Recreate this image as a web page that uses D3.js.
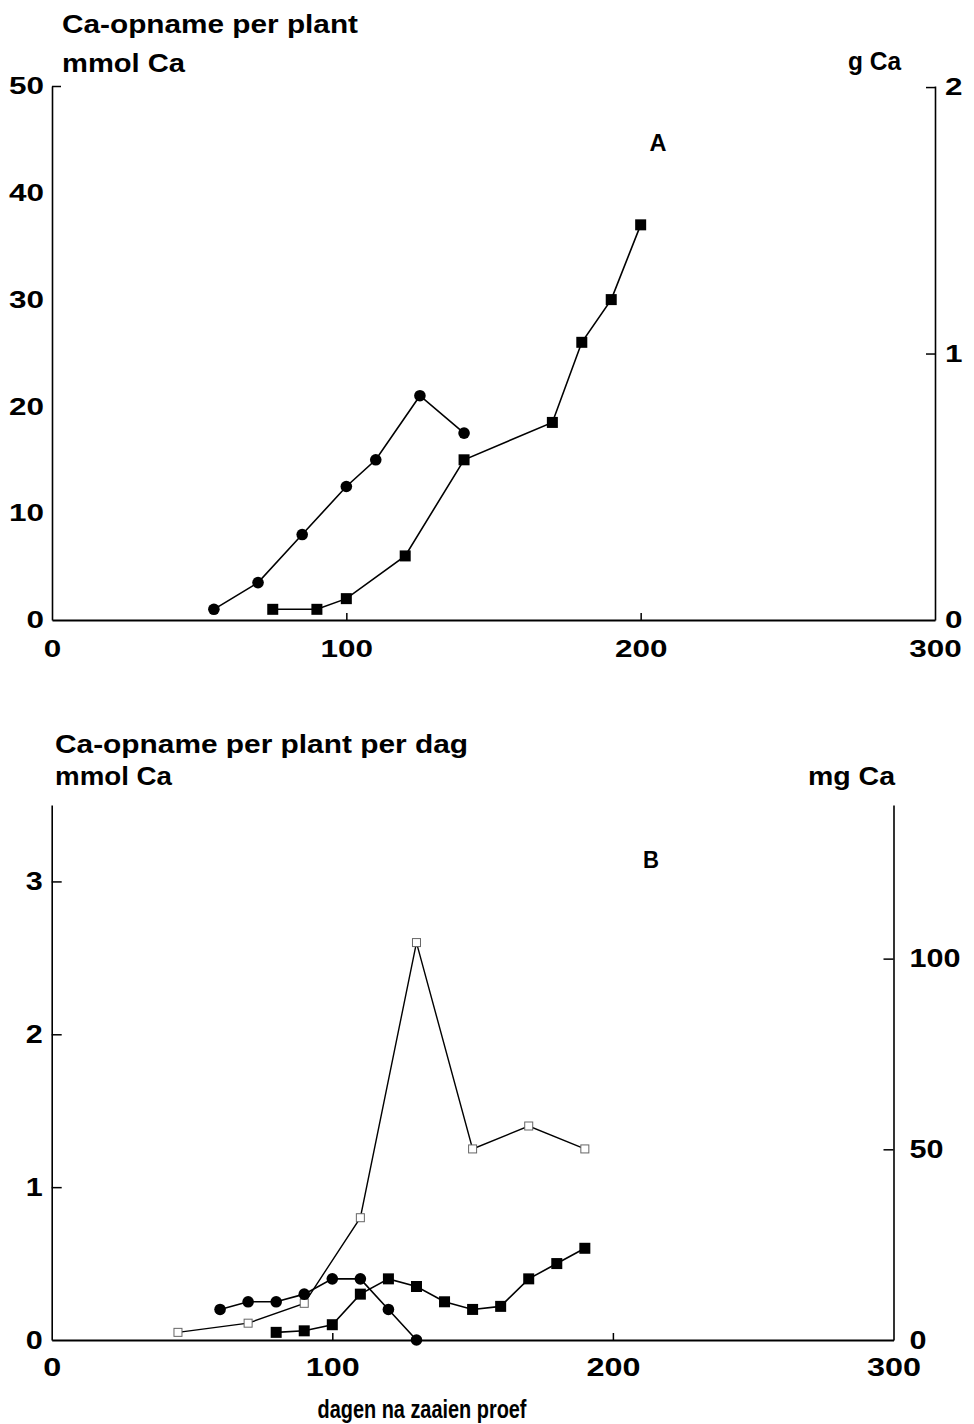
<!DOCTYPE html>
<html>
<head>
<meta charset="utf-8">
<script src="https://cdn.jsdelivr.net/npm/d3@7"></script>
<style>
  html, body { margin: 0; padding: 0; background: #fff; }
  svg { display: block; }
</style>
</head>
<body>
<script>
// ---------- DATA ----------
// Panel A: cumulative Ca uptake per plant (mmol Ca)
const daysA_circle = [55, 70, 85, 100, 110, 125, 140];
const caA_circle   = [1, 3.5, 8, 12.5, 15, 21, 17.5];
const daysA_square = [75, 90, 100, 120, 140, 170, 180, 190, 200];
const caA_square   = [1, 1, 2, 6, 15, 18.5, 26, 30, 37];

// Panel B: Ca uptake per plant per day (mmol Ca)
const daysB_circle = [60, 70, 80, 90, 100, 110, 120, 130];
const caB_circle   = [0.2, 0.25, 0.25, 0.3, 0.4, 0.4, 0.2, 0];
const daysB_square = [80, 90, 100, 110, 120, 130, 140, 150, 160, 170, 180, 190];
const caB_square   = [0.05, 0.06, 0.1, 0.3, 0.4, 0.35, 0.25, 0.2, 0.22, 0.4, 0.5, 0.6];
const daysB_open   = [45, 70, 90, 110, 130, 150, 170, 190];
const caB_open     = [0.05, 0.11, 0.24, 0.8, 2.6, 1.25, 1.4, 1.25];

// Tick labels
const xTicks      = [0, 100, 200, 300];
const yTicksA     = [0, 10, 20, 30, 40, 50];
const yTicksA_g   = [0, 1, 2];
const yTicksB     = [0, 1, 2, 3];
const yTicksB_mg  = [0, 50, 100];

// Texts
const titleA1 = "Ca-opname per plant";
const titleA2 = "mmol Ca";
const titleA3 = "g Ca";
const labelA  = "A";
const titleB1 = "Ca-opname per plant per dag";
const titleB2 = "mmol Ca";
const titleB3 = "mg Ca";
const labelB  = "B";
const xTitle  = "dagen na zaaien proef";

const MOLAR_CA = 40.08; // mg per mmol

// ---------- SETUP ----------
const W = 974, H = 1424;
const FONT = "'Liberation Sans', Arial, Helvetica, sans-serif";
const svg = d3.select("body").append("svg").attr("width", W).attr("height", H);
svg.append("rect").attr("width", W).attr("height", H).attr("fill", "#fff");

function txt(str, x, y, size, anchor, len) {
  const t = svg.append("text")
    .attr("x", x).attr("y", y)
    .attr("font-family", FONT).attr("font-weight", "bold")
    .attr("font-size", size).attr("fill", "#000")
    .attr("text-anchor", anchor || "start")
    .text(str);
  if (len) t.attr("textLength", len).attr("lengthAdjust", "spacingAndGlyphs");
  return t;
}

function styleAxis(g, size, perChar, lineW, marks) {
  g.select(".domain").attr("stroke", "#000").attr("stroke-width", lineW);
  g.selectAll(".tick line").attr("stroke", "#000").attr("stroke-width", 1.5)
    .attr("display", d => (marks && marks.indexOf(d) >= 0) ? null : "none");
  g.selectAll(".tick text")
    .attr("font-family", FONT).attr("font-weight", "bold")
    .attr("font-size", size).attr("fill", "#000")
    .each(function() {
      const t = d3.select(this);
      t.attr("textLength", t.text().length * perChar).attr("lengthAdjust", "spacingAndGlyphs");
    });
}

function series(g, xs, ys, x, y, kind, lw) {
  const pts = xs.map((d, i) => [d, ys[i]]);
  const line = d3.line().x(d => x(d[0])).y(d => y(d[1]));
  g.append("path").attr("d", line(pts)).attr("fill", "none")
    .attr("stroke", "#000").attr("stroke-width", lw || 1.6);
  if (kind === "circle") {
    g.selectAll(null).data(pts).enter().append("circle")
      .attr("cx", d => x(d[0])).attr("cy", d => y(d[1])).attr("r", 5.8).attr("fill", "#000");
  } else if (kind === "square") {
    const s = 11;
    g.selectAll(null).data(pts).enter().append("rect")
      .attr("x", d => x(d[0]) - s / 2).attr("y", d => y(d[1]) - s / 2)
      .attr("width", s).attr("height", s).attr("fill", "#000");
  } else if (kind === "open") {
    const s = 8;
    g.selectAll(null).data(pts).enter().append("rect")
      .attr("x", d => x(d[0]) - s / 2).attr("y", d => y(d[1]) - s / 2)
      .attr("width", s).attr("height", s).attr("fill", "#fff")
      .attr("stroke", "#666").attr("stroke-width", 1);
  }
}

// ---------- PANEL A ----------
const xA = d3.scaleLinear().domain([0, 300]).range([52, 935]);
const yA = d3.scaleLinear().domain([0, 50]).range([620, 86]);
const yAg = d3.scaleLinear().domain([0, 50 * MOLAR_CA / 1000]).range([620, 86]);

const gA = svg.append("g");
const axAx = gA.append("g").attr("transform", "translate(0,620)")
  .call(d3.axisBottom(xA).tickValues(xTicks).tickSizeInner(-7).tickSizeOuter(0).tickPadding(20).tickFormat(d3.format("d")));
styleAxis(axAx, 24, 17.5, 2, [100, 200]);
const axAy = gA.append("g").attr("transform", "translate(52,0)")
  .call(d3.axisLeft(yA).tickValues(yTicksA).tickSizeInner(-9).tickSizeOuter(0).tickPadding(8).tickFormat(d3.format("d")));
styleAxis(axAy, 24, 17.5, 1.6, [50]);
const axAr = gA.append("g").attr("transform", "translate(935,0)")
  .call(d3.axisRight(yAg).tickValues(yTicksA_g).tickSizeInner(-9).tickSizeOuter(0).tickPadding(10).tickFormat(d3.format("d")));
styleAxis(axAr, 24, 17.5, 1.6, [1, 2]);

series(gA, daysA_circle, caA_circle, xA, yA, "circle");
series(gA, daysA_square, caA_square, xA, yA, "square");

txt(titleA1, 62, 33, 25, "start", 296);
txt(titleA2, 62, 72, 25, "start", 123);
txt(titleA3, 848, 70, 25, "start", 53);
txt(labelA, 658, 151, 24, "middle", 17);

// ---------- PANEL B ----------
const xB = d3.scaleLinear().domain([0, 300]).range([51.7, 893.5]);
const yB = d3.scaleLinear().domain([0, 3.5]).range([1340, 805]);
const yBmg = d3.scaleLinear().domain([0, 3.5 * MOLAR_CA]).range([1340, 805]);

const gB = svg.append("g");
const axBx = gB.append("g").attr("transform", "translate(0,1340)")
  .call(d3.axisBottom(xB).tickValues(xTicks).tickSizeInner(-7).tickSizeOuter(0).tickPadding(18).tickFormat(d3.format("d")));
styleAxis(axBx, 26, 18, 2, [100, 200]);
const axBy = gB.append("g").attr("transform", "translate(51.7,0)")
  .call(d3.axisLeft(yB).tickValues(yTicksB).tickSizeInner(-10).tickSizeOuter(0).tickPadding(9).tickFormat(d3.format("d")));
styleAxis(axBy, 26, 17, 1.6, [1, 2, 3]);
const axBr = gB.append("g").attr("transform", "translate(893.5,0)")
  .call(d3.axisRight(yBmg).tickValues(yTicksB_mg).tickSizeInner(-10).tickSizeOuter(0).tickPadding(16).tickFormat(d3.format("d")));
styleAxis(axBr, 26, 17, 1.6, [50, 100]);

series(gB, daysB_open, caB_open, xB, yB, "open", 1.4);
series(gB, daysB_circle, caB_circle, xB, yB, "circle");
series(gB, daysB_square, caB_square, xB, yB, "square");

txt(titleB1, 55, 753, 25, "start", 413);
txt(titleB2, 55, 785, 25, "start", 117);
txt(titleB3, 808, 785, 25, "start", 87);
txt(labelB, 651, 868, 24, "middle", 16);
txt(xTitle, 422, 1418, 25, "middle", 209);
</script>
</body>
</html>
